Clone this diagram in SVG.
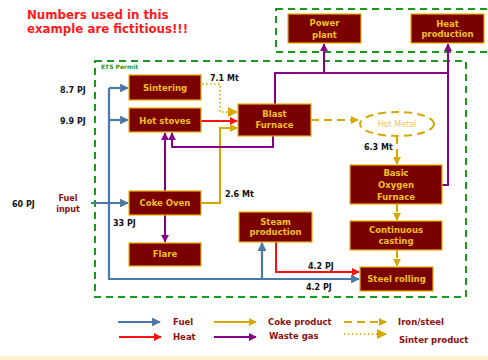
<svg xmlns="http://www.w3.org/2000/svg" width="488" height="360" viewBox="0 0 488 360">
<style>
.box{fill:#7a0000;stroke:#e8b000;stroke-width:1.2}
.bt{font-family:"DejaVu Sans",Verdana,sans-serif;font-weight:bold;font-size:8.5px;fill:#f0c020;text-anchor:middle}
.lbl{font-family:"DejaVu Sans",Verdana,sans-serif;font-weight:bold;font-size:8px;fill:#111}
.leg{font-family:"DejaVu Sans",Verdana,sans-serif;font-weight:bold;font-size:8.5px;fill:#8b1010}
.fuel{fill:none;stroke:#4a78a8;stroke-width:2.2}
.heat{fill:none;stroke:#ff1010;stroke-width:2}
.coke{fill:none;stroke:#d4a800;stroke-width:2}
.iron{fill:none;stroke:#d4a800;stroke-width:2;stroke-dasharray:8,5}
.sint{fill:none;stroke:#d4a800;stroke-width:1.6;stroke-dasharray:1.5,2.5}
.waste{fill:none;stroke:#880088;stroke-width:2}
.ets{fill:none;stroke:#1a9a1a;stroke-width:2;stroke-dasharray:7,5}
.title{font-family:"DejaVu Sans",Verdana,sans-serif;font-weight:bold;font-size:11.8px;fill:#ff1a1a}
</style>
<defs>
<marker id="aB" viewBox="0 0 10 10" refX="9" refY="5" markerWidth="4" markerHeight="4" orient="auto" markerUnits="strokeWidth"><path d="M0,0L10,5L0,10z" fill="#4a78a8"/></marker>
<marker id="aR" viewBox="0 0 10 10" refX="9" refY="5" markerWidth="4" markerHeight="4" orient="auto" markerUnits="strokeWidth"><path d="M0,0L10,5L0,10z" fill="#ff1010"/></marker>
<marker id="aG" viewBox="0 0 10 10" refX="9" refY="5" markerWidth="4" markerHeight="4" orient="auto" markerUnits="strokeWidth"><path d="M0,0L10,5L0,10z" fill="#d4a800"/></marker>
<marker id="aGs" viewBox="0 0 10 10" refX="9" refY="5" markerWidth="5" markerHeight="5" orient="auto" markerUnits="strokeWidth"><path d="M0,0L10,5L0,10z" fill="#d4a800"/></marker>
<marker id="aP" viewBox="0 0 10 10" refX="9" refY="5" markerWidth="4" markerHeight="4" orient="auto" markerUnits="strokeWidth"><path d="M0,0L10,5L0,10z" fill="#880088"/></marker>
</defs>
<rect x="0" y="356" width="488" height="4" fill="#fdf2d0"/>
<text class="title" x="27" y="19">Numbers used in this</text>
<text class="title" x="27" y="33">example are fictitious!!!</text>
<rect class="ets" x="276" y="9" width="216" height="43"/>
<rect class="ets" x="95" y="61" width="371" height="236"/>
<text x="101" y="69" font-family="'DejaVu Sans',Verdana,sans-serif" font-weight="bold" font-size="6" fill="#1a9a1a">ETS Permit</text>
<g id="connectors">
<path class="fuel" d="M91,203H128" marker-end="url(#aB)"/>
<path class="fuel" d="M109,88V279H359" marker-end="url(#aB)"/>
<path class="fuel" d="M109,88H128" marker-end="url(#aB)"/>
<path class="fuel" d="M109,120H128" marker-end="url(#aB)"/>
<path class="fuel" d="M262,279V243" marker-end="url(#aB)"/>
<path class="heat" d="M201,121H237" marker-end="url(#aR)"/>
<path class="heat" d="M276,242V272H359" marker-end="url(#aR)"/>
<path class="sint" d="M202,84H220V112H233"/>
<path class="coke" d="M232,112H237" marker-end="url(#aGs)"/>
<path class="coke" d="M201,203H220V128H237" marker-end="url(#aG)"/>
<path class="waste" d="M165,191V133" marker-end="url(#aP)"/>
<path class="waste" d="M165,215V242" marker-end="url(#aP)"/>
<path class="waste" d="M273,136V147H172V133" marker-end="url(#aP)"/>
<path class="waste" d="M275,104V73H448"/>
<path class="waste" d="M324,73V44" marker-end="url(#aP)"/>
<path class="waste" d="M442,185H448V44" marker-end="url(#aP)"/>
<path class="iron" d="M311,120H358" marker-end="url(#aG)"/>
<path class="iron" d="M397,136V164" marker-end="url(#aG)"/>
<path class="iron" d="M397,204V220" marker-end="url(#aG)"/>
<path class="iron" d="M397,250V266" marker-end="url(#aG)"/>
</g>
<g id="power"><rect class="box" x="288" y="14" width="73" height="29"/><text class="bt" x="324.5" y="26">Power</text><text class="bt" x="324.5" y="38">plant</text></g>
<g id="heatprod"><rect class="box" x="411" y="14" width="73" height="29"/><text class="bt" x="447.5" y="27">Heat</text><text class="bt" x="447.5" y="37">production</text></g>
<g id="sintering"><rect class="box" x="129" y="75" width="72" height="25"/><text class="bt" x="165" y="91">Sintering</text></g>
<g id="hotstoves"><rect class="box" x="129" y="108" width="72" height="24"/><text class="bt" x="165" y="124">Hot stoves</text></g>
<g id="blastfurnace"><rect class="box" x="238" y="104" width="73" height="32"/><text class="bt" x="274.5" y="117">Blast</text><text class="bt" x="274.5" y="128">Furnace</text></g>
<g id="hotmetal"><ellipse cx="397" cy="124" rx="37" ry="12" fill="none" stroke="#d4a800" stroke-width="2" stroke-dasharray="8,5"/><text x="397" y="127" font-family="'DejaVu Sans',Verdana,sans-serif" font-size="8" fill="#e8c868" text-anchor="middle">Hot Metal</text></g>
<g id="cokeoven"><rect class="box" x="129" y="191" width="72" height="24"/><text class="bt" x="165" y="206">Coke Oven</text></g>
<g id="flare"><rect class="box" x="129" y="243" width="72" height="23"/><text class="bt" x="165" y="257">Flare</text></g>
<g id="steam"><rect class="box" x="239" y="212" width="73" height="30"/><text class="bt" x="275.5" y="225">Steam</text><text class="bt" x="275.5" y="235">production</text></g>
<g id="bof"><rect class="box" x="350" y="165" width="92" height="39"/><text class="bt" x="396" y="176">Basic</text><text class="bt" x="396" y="188">Oxygen</text><text class="bt" x="396" y="200">Furnace</text></g>
<g id="casting"><rect class="box" x="350" y="221" width="92" height="29"/><text class="bt" x="396" y="233">Continuous</text><text class="bt" x="396" y="244">casting</text></g>
<g id="rolling"><rect class="box" x="360" y="267" width="73" height="24"/><text class="bt" x="396.5" y="282">Steel rolling</text></g>
<text class="lbl" x="60" y="93">8.7 PJ</text>
<text class="lbl" x="60" y="124">9.9 PJ</text>
<text class="lbl" x="12" y="207">60 PJ</text>
<text x="68" y="201" font-family="'DejaVu Sans',Verdana,sans-serif" font-weight="bold" font-size="8" fill="#8b1010" text-anchor="middle">Fuel</text>
<text x="68" y="212" font-family="'DejaVu Sans',Verdana,sans-serif" font-weight="bold" font-size="8" fill="#8b1010" text-anchor="middle">input</text>
<text class="lbl" x="113" y="226">33 PJ</text>
<text class="lbl" x="210" y="81">7.1 Mt</text>
<text class="lbl" x="225" y="197">2.6 Mt</text>
<text class="lbl" x="364" y="150">6.3 Mt</text>
<text class="lbl" x="308" y="269">4.2 PJ</text>
<text class="lbl" x="306" y="290">4.2 PJ</text>
<g id="legend">
<path class="fuel" d="M118,322H160" marker-end="url(#aB)"/>
<path class="heat" d="M119,337H161" marker-end="url(#aR)"/>
<path class="coke" d="M214,322H256" marker-end="url(#aG)"/>
<path class="waste" d="M214,337H256" marker-end="url(#aP)"/>
<path class="iron" d="M344,322H386" marker-end="url(#aG)"/>
<path class="sint" d="M344,334H381"/>
<path class="coke" d="M381,334H386" marker-end="url(#aGs)"/>
<text class="leg" x="173" y="325">Fuel</text>
<text class="leg" x="173" y="340">Heat</text>
<text class="leg" x="268" y="325">Coke product</text>
<text class="leg" x="269" y="339">Waste gas</text>
<text class="leg" x="398" y="325">Iron/steel</text>
<text class="leg" x="399" y="343">Sinter product</text>
</g>
</svg>
